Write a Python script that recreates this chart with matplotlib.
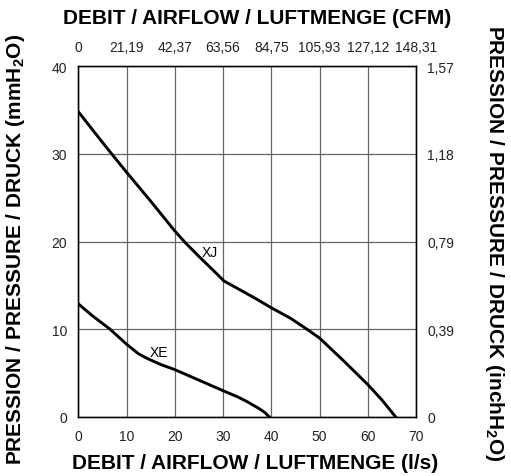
import matplotlib
matplotlib.use('Agg')
import matplotlib.pyplot as plt

plt.rcParams['font.family'] = ['Liberation Sans', 'DejaVu Sans']
plt.rcParams['mathtext.fontset'] = 'custom'
plt.rcParams['mathtext.rm'] = 'Liberation Sans:bold'
plt.rcParams['mathtext.bf'] = 'Liberation Sans:bold'

# airflow (l/s) / pressure (mmH2O)
xj_flow = [0, 5, 6.9, 10, 15, 20, 22.3, 25, 28, 30.2, 33, 36.6, 40, 44, 47.4, 50, 55, 60, 63, 65.8]
xj_pres = [34.8, 31.3, 30, 27.9, 24.6, 21.2, 19.8, 18.3, 16.7, 15.5, 14.65, 13.55, 12.45, 11.25, 10, 9.0, 6.4, 3.7, 1.9, 0]
xe_flow = [0, 3, 6.6, 10, 12.5, 14.2, 17, 20, 25, 30, 33, 35, 37.5, 38.7, 39.6]
xe_pres = [12.9, 11.5, 10, 8.3, 7.2, 6.7, 6.0, 5.4, 4.2, 3.0, 2.3, 1.75, 0.95, 0.5, 0]

x_ticks = [0, 10, 20, 30, 40, 50, 60, 70]
cfm_labels = ['0', '21,19', '42,37', '63,56', '84,75', '105,93', '127,12', '148,31']
y_ticks = [0, 10, 20, 30, 40]
inch_labels = ['0', '0,39', '0,79', '1,18', '1,57']

fig = plt.figure(figsize=(5.11, 4.77), dpi=100)
ax = fig.add_axes([0.1532, 0.1237, 0.6609, 0.7358])

ax.set_xlim(0, 70)
ax.set_ylim(0, 40)
ax.set_xticks(x_ticks)
ax.set_yticks(y_ticks)
ax.grid(True, color='#666666', linewidth=0.9)
ax.set_axisbelow(True)
for s in ax.spines.values():
    s.set_linewidth(1.0)
    s.set_color('black')
ax.tick_params(length=0, labelsize=10, colors='#222222')
ax.tick_params(axis='x', pad=9)
ax.tick_params(axis='y', pad=8)

ax.plot(xj_flow, xj_pres, color='black', linewidth=2.1)
ax.plot(xe_flow, xe_pres, color='black', linewidth=2.1)
ax.text(27.3, 18.8, 'XJ', fontsize=10, ha='center', va='center')
ax.text(16.7, 7.4, 'XE', fontsize=10, ha='center', va='center')

# secondary scales (CFM on top, inchH2O on right)
top = ax.twiny()
top.set_xlim(ax.get_xlim())
top.set_xticks(x_ticks)
top.set_xticklabels(cfm_labels)
top.tick_params(length=0, labelsize=10, pad=9, colors='#222222')

right = ax.twinx()
right.set_ylim(ax.get_ylim())
right.set_yticks(y_ticks)
right.set_yticklabels(inch_labels)
right.tick_params(length=0, labelsize=10, pad=8, colors='#222222')

fig.text(0.503, 0.962, 'DEBIT / AIRFLOW / LUFTMENGE (CFM)', fontsize=15,
         fontweight='bold', ha='center', va='center')
fig.text(0.5, 0.028, 'DEBIT / AIRFLOW / LUFTMENGE (l/s)', fontsize=15,
         fontweight='bold', ha='center', va='center')
fig.text(0.03, 0.477, r'PRESSION / PRESSURE / DRUCK (mmH$_\mathbf{2}$O)', fontsize=15,
         fontweight='bold', ha='center', va='center', rotation=90)
fig.text(0.968, 0.49, r'PRESSION / PRESSURE / DRUCK (inchH$_\mathbf{2}$O)', fontsize=15,
         fontweight='bold', ha='center', va='center', rotation=-90)

fig.savefig('out.png', dpi=100)
